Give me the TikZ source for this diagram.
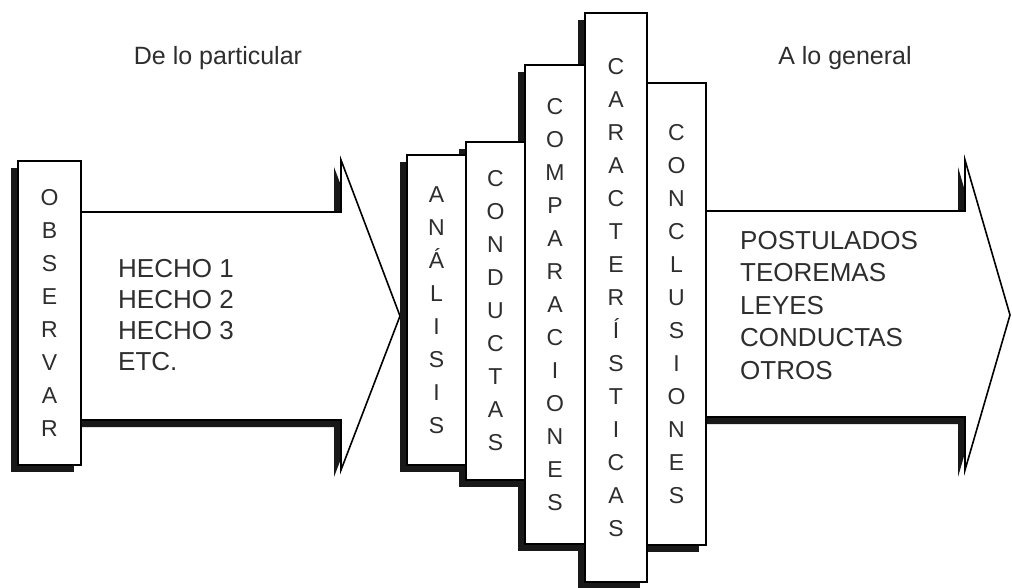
\documentclass[tikz,border=0pt]{standalone}
\usepackage{fontspec}
\setmainfont{Liberation Sans}
\usetikzlibrary{shadows}
\definecolor{ink}{HTML}{2E2E2E}
\begin{document}
\begin{tikzpicture}[x=1pt,y=-1pt,
  shd/.style={drop shadow={shadow xshift=-7pt,shadow yshift=-7pt,opacity=1,fill=black!90}},
  vbox/.style={draw=black,line width=1.6pt,fill=white,shd,inner sep=0pt,align=center,text=ink,font=\fontsize{23}{33}\selectfont},
  barrow/.style={draw=black,line width=1.6pt,fill=white,shd,line join=miter},
  lst/.style={anchor=north west,inner sep=0pt,align=left,text=ink},
  hdr/.style={anchor=base,inner sep=0pt,text=ink,font=\fontsize{25}{30}\selectfont}]
\fill[white] (0,0) rectangle (1012,588);
\useasboundingbox (0,0) rectangle (1012,588);

% headers
\node[hdr] (part) at (218,65) {De lo particular};
\node[hdr] (gen) at (845,65) {A lo general};

% left block arrow
\path[barrow] (81,212) -- (341,212) -- (341,160) -- (400,316) -- (341,470) -- (341,420) -- (81,420) -- cycle;
\node[lst,font=\fontsize{26}{31}\selectfont] (hechos) at (118,259) {HECHO 1\\HECHO 2\\HECHO 3\\ETC.};

% OBSERVAR
\node[vbox,minimum width=63pt,minimum height=304pt] (obs) at (49.5,313) {O\\B\\S\\E\\R\\V\\A\\R};

% right block arrow
\path[barrow] (706,211) -- (965,211) -- (965,160) -- (1010,315) -- (965,470) -- (965,417) -- (706,417) -- cycle;
\node[lst,font=\fontsize{26}{32.5}\selectfont] (result) at (740,231) {POSTULADOS\\TEOREMAS\\LEYES\\CONDUCTAS\\OTROS};

% middle stack
\node[vbox,minimum width=59pt,minimum height=462pt] (clu) at (676.5,314) {C\\O\\N\\C\\L\\U\\S\\I\\O\\N\\E\\S};
\node[vbox,minimum width=62pt,minimum height=569pt] (car) at (616,297.5) {C\\A\\R\\A\\C\\T\\E\\R\\Í\\S\\T\\I\\C\\A\\S};
\node[vbox,minimum width=60pt,minimum height=479pt] (com) at (555,304.5) {C\\O\\M\\P\\A\\R\\A\\C\\I\\O\\N\\E\\S};
\node[vbox,minimum width=59pt,minimum height=338pt] (con) at (495.5,311) {C\\O\\N\\D\\U\\C\\T\\A\\S};
\node[vbox,minimum width=59pt,minimum height=310pt] (ana) at (436.5,310) {A\\N\\Á\\L\\I\\S\\I\\S};
\end{tikzpicture}
\end{document}
